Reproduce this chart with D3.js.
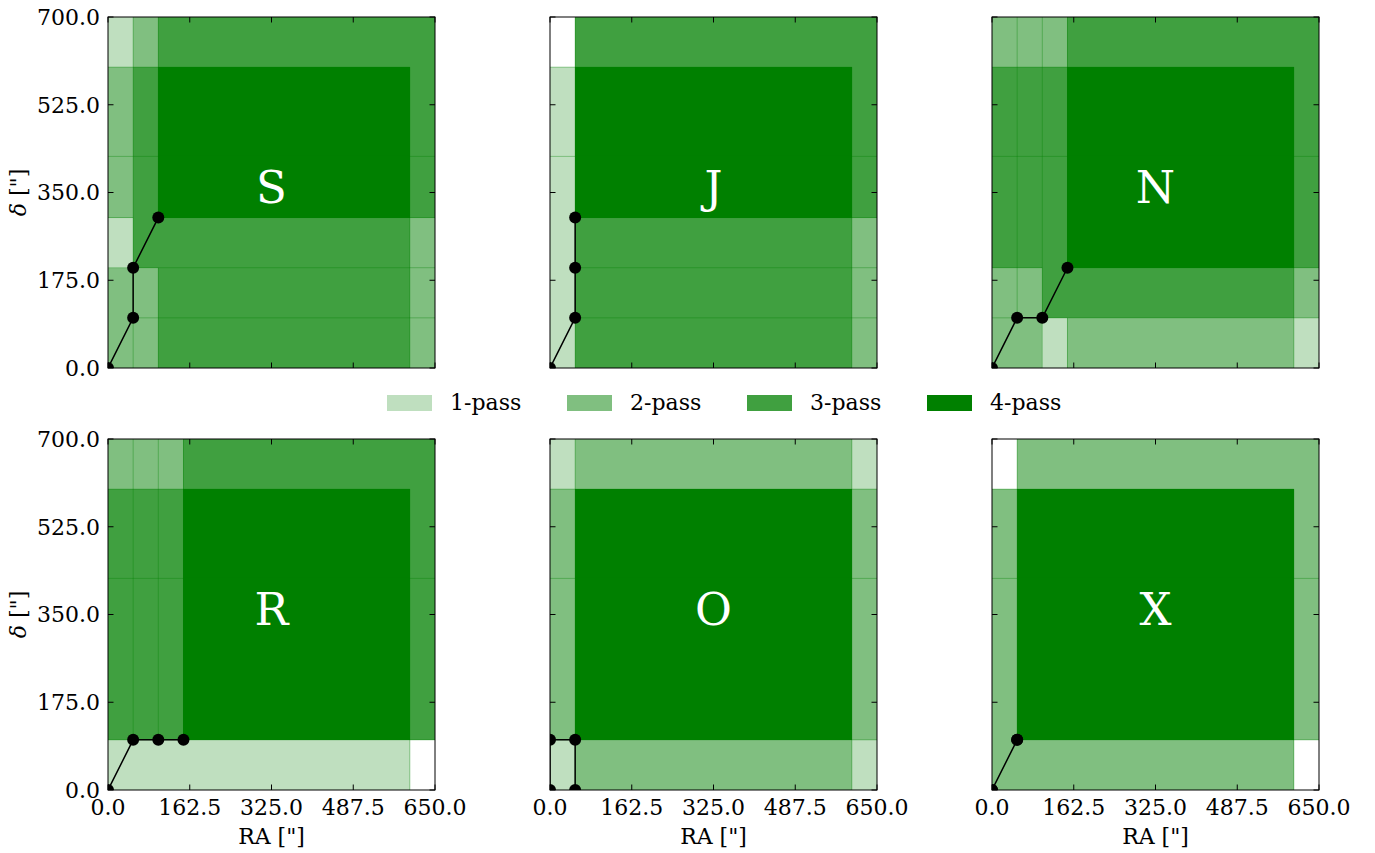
<!DOCTYPE html>
<html><head><meta charset="utf-8">
<script src="https://cdn.jsdelivr.net/npm/d3@7"></script>
<style>body{margin:0;background:#fff} text{font-family:"DejaVu Serif",serif}</style>
</head><body><svg id="c" width="1375" height="853"></svg>
<script>
// ---------- data ----------
const panelNames = ["S", "J", "N", "R", "O", "X"];
const ditherS = [[0, 0], [50, 100], [50, 200], [100, 300]];
const ditherJ = [[0, 0], [50, 100], [50, 200], [50, 300]];
const ditherN = [[0, 0], [50, 100], [100, 100], [150, 200]];
const ditherR = [[0, 0], [50, 100], [100, 100], [150, 100]];
const ditherO = [[0, 0], [0, 100], [50, 100], [50, 0]];
const ditherX = [[0, 0], [50, 100], [0, 0], [50, 100]];
const dithers = [ditherS, ditherJ, ditherN, ditherR, ditherO, ditherX];
const xTicks = [0, 162.5, 325, 487.5, 650];
const yTicks = [0, 175, 350, 525, 700];
const passLabels = ["1-pass", "2-pass", "3-pass", "4-pass"];
const passColors = ["#bfdfbf", "#80bf80", "#40a040", "#008000"];
const fieldSize = 600;      // field footprint (arcsec)
const periodRA = 650;       // mosaic period in RA
const periodDec = 700;      // mosaic period in Dec
const seamDec = 422;        // extra patch seam seen in figure

// ---------- layout ----------
const svg = d3.select("#c");
const colLeft = [108, 550, 992];
const rowTop = [17, 439];
const W = 327, H = 351;
const tickFmt = d3.format(".1f");

function intervals(d, period) {
  const out = [];
  for (const s of [0, -period]) {
    const a = Math.max(0, d + s), b = Math.min(period, d + s + fieldSize);
    if (b > a) out.push([a, b]);
  }
  return out;
}

panelNames.forEach((name, p) => {
  const col = p % 3, row = Math.floor(p / 3);
  const L = colLeft[col], T = rowTop[row];
  const x = d3.scaleLinear().domain([0, periodRA]).range([L, L + W]);
  const y = d3.scaleLinear().domain([0, periodDec]).range([T + H, T]);
  const g = svg.append("g");
  const clipId = "clip" + p;
  svg.append("clipPath").attr("id", clipId).append("rect")
    .attr("x", L).attr("y", T).attr("width", W).attr("height", H);
  const gc = g.append("g").attr("clip-path", `url(#${clipId})`);

  const dith = dithers[p];
  const exps = dith.map(([dx, dy]) => ({xi: intervals(dx, periodRA), yi: intervals(dy, periodDec)}));
  let xs = [0, periodRA], ys = [0, periodDec, seamDec];
  exps.forEach(e => { e.xi.forEach(v => xs.push(...v)); e.yi.forEach(v => ys.push(...v)); });
  xs = Array.from(new Set(xs)).sort((a, b) => a - b);
  ys = Array.from(new Set(ys)).sort((a, b) => a - b);
  const inside = (iv, v) => iv.some(([a, b]) => v > a && v < b);
  const mask = (i, j) => {
    const cx = (xs[i] + xs[i + 1]) / 2, cy = (ys[j] + ys[j + 1]) / 2;
    let m = 0;
    exps.forEach((e, k) => { if (inside(e.xi, cx) && inside(e.yi, cy)) m |= (1 << k); });
    return m;
  };
  const cells = [];
  const M = [];
  for (let i = 0; i < xs.length - 1; i++) {
    M.push([]);
    for (let j = 0; j < ys.length - 1; j++) {
      const m = mask(i, j);
      M[i].push(m);
      let c = 0; for (let k = 0; k < 8; k++) if (m & (1 << k)) c++;
      if (c > 0) cells.push({x0: xs[i], x1: xs[i + 1], y0: ys[j], y1: ys[j + 1], n: c});
    }
  }
  gc.selectAll("rect.cell").data(cells).join("rect").attr("class", "cell")
    .attr("x", d => x(d.x0)).attr("y", d => y(d.y1))
    .attr("width", d => x(d.x1) - x(d.x0)).attr("height", d => y(d.y0) - y(d.y1))
    .attr("fill", d => passColors[d.n - 1])
    .attr("shape-rendering", "crispEdges");

  const seams = [];
  for (let i = 1; i < xs.length - 1; i++)
    for (let j = 0; j < ys.length - 1; j++) {
      const a = M[i - 1][j], b = M[i][j];
      if (a !== b && (a || b)) seams.push([xs[i], ys[j], xs[i], ys[j + 1]]);
    }
  for (let j = 1; j < ys.length - 1; j++)
    for (let i = 0; i < xs.length - 1; i++) {
      const a = M[i][j - 1], b = M[i][j];
      if ((a !== b || ys[j] === seamDec) && (a || b)) seams.push([xs[i], ys[j], xs[i + 1], ys[j]]);
    }
  gc.selectAll("line.seam").data(seams).join("line").attr("class", "seam")
    .attr("x1", d => x(d[0])).attr("y1", d => y(d[1]))
    .attr("x2", d => x(d[2])).attr("y2", d => y(d[3]))
    .attr("stroke", "#008000").attr("stroke-opacity", 0.35).attr("stroke-width", 1);

  // dither path
  gc.append("path").datum(dith)
    .attr("d", d3.line().x(d => x(d[0])).y(d => y(d[1])))
    .attr("fill", "none").attr("stroke", "#000").attr("stroke-width", 1.5);
  gc.selectAll("circle").data(dith).join("circle")
    .attr("cx", d => x(d[0])).attr("cy", d => y(d[1])).attr("r", 6).attr("fill", "#000");

  // panel label
  g.append("text").attr("x", x(325)).attr("y", (T + H / 2) + 10)
    .attr("text-anchor", "middle").attr("fill", "#fff").attr("font-size", 45).text(name);

  // ticks (inward, all sides)
  const tk = 5.5;
  xTicks.forEach(t => {
    g.append("line").attr("x1", x(t)).attr("x2", x(t)).attr("y1", T + H).attr("y2", T + H - tk).attr("stroke", "#000");
    g.append("line").attr("x1", x(t)).attr("x2", x(t)).attr("y1", T).attr("y2", T + tk).attr("stroke", "#000");
  });
  yTicks.forEach(t => {
    g.append("line").attr("y1", y(t)).attr("y2", y(t)).attr("x1", L).attr("x2", L + tk).attr("stroke", "#000");
    g.append("line").attr("y1", y(t)).attr("y2", y(t)).attr("x1", L + W).attr("x2", L + W - tk).attr("stroke", "#000");
  });
  g.append("rect").attr("x", L).attr("y", T).attr("width", W).attr("height", H)
    .attr("fill", "none").attr("stroke", "#000").attr("stroke-width", 1);

  if (col === 0) {
    yTicks.forEach(t => {
      g.append("text").attr("x", L - 8).attr("y", y(t)).attr("dy", "0.36em")
        .attr("text-anchor", "end").attr("font-size", 22).text(tickFmt(t));
    });
    const lt = g.append("text").attr("transform", `translate(26,${T + H / 2}) rotate(-90)`)
      .attr("text-anchor", "middle").attr("font-size", 22);
    lt.append("tspan").attr("font-style", "italic").text("δ");
    lt.append("tspan").text(' ["]');
  }
  if (row === 1) {
    xTicks.forEach(t => {
      g.append("text").attr("x", x(t)).attr("y", T + H + 25)
        .attr("text-anchor", "middle").attr("font-size", 22).text(tickFmt(t));
    });
    g.append("text").attr("x", L + W / 2).attr("y", 844).attr("text-anchor", "middle")
      .attr("font-size", 22).text('RA ["]');
  }
});

// legend
const legX = [387, 567, 747, 927];
const leg = svg.append("g");
passLabels.forEach((lab, i) => {
  leg.append("rect").attr("x", legX[i]).attr("y", 395).attr("width", 45).attr("height", 16).attr("fill", passColors[i]);
  leg.append("text").attr("x", legX[i] + 63).attr("y", 410).attr("font-size", 22).text(lab);
});
</script></body></html>
